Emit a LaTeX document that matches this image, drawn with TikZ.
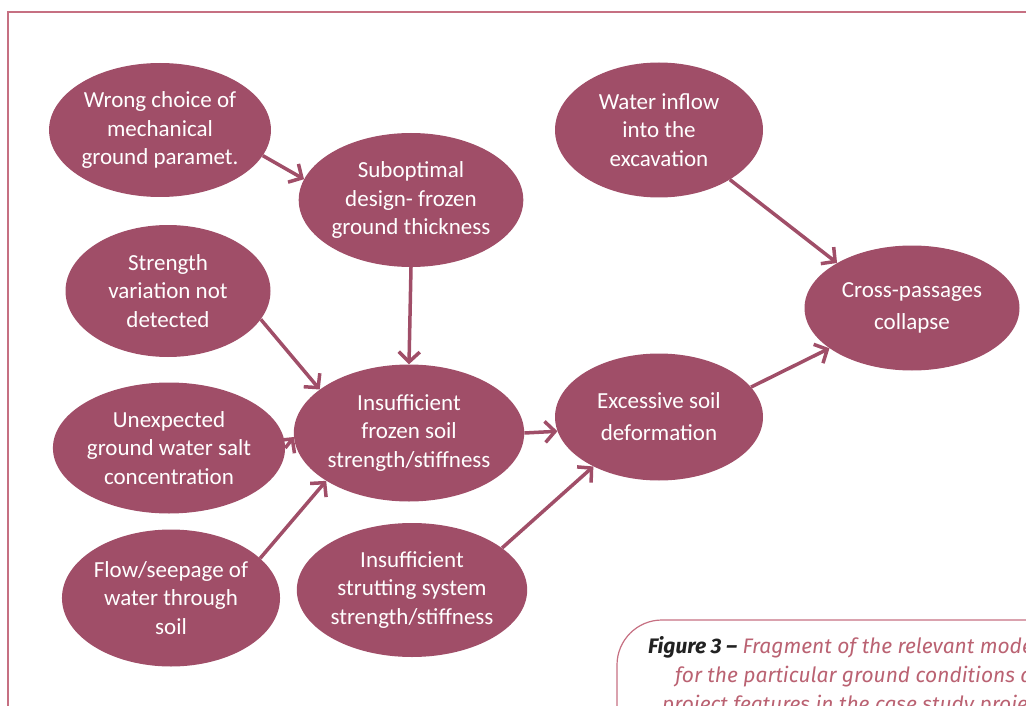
\documentclass[tikz,border=0pt]{standalone}
\usepackage{fontspec}
\setmainfont{Carlito}
\newfontfamily\capfont{Fira Sans}
\usepackage{tikz}
\usetikzlibrary{shapes.geometric}
\usetikzlibrary{arrows.meta}
\definecolor{bnred}{RGB}{160,78,104}
\definecolor{framepink}{RGB}{198,112,130}
\definecolor{captext}{RGB}{186,98,114}
\definecolor{capdark}{RGB}{34,34,34}

\begin{document}
\begin{tikzpicture}[x=1pt, y=-1pt,
    cause/.style={ellipse, fill=bnred, text=white, align=center, inner sep=0pt,
        minimum width=208pt, minimum height=134pt,
        font=\fontsize{23}{28.5}\selectfont},
    link/.style={-{Straight Barb[length=10pt, width=21pt]}, line width=3.5pt, bnred},
    captionline/.style={anchor=base west, inner sep=0pt, text=captext,
        font=\capfont\itshape\fontsize{21}{29}\selectfont}]
    \useasboundingbox (0,0) rectangle (1026,706);
    \draw[framepink, line width=1.5pt] (8,720) -- (8,12) -- (1040,12);

    \node[cause, minimum width=215pt] (wrongchoice) at (160,130) {Wrong choice of\\mechanical\\ground paramet.};
    \node[cause, minimum width=212pt] (suboptimal) at (411,200) {Suboptimal\\design- frozen\\ground thickness};
    \node[cause, minimum width=205pt, minimum height=132pt] (strength) at (168,291) {Strength\\variation not\\detected};
    \node[cause, minimum height=131pt] (saltconc) at (169,448) {Unexpected\\ground water salt\\concentration};
    \node[cause, minimum height=137pt] (seepage) at (171,598) {Flow/seepage of\\water through\\soil};
    \node[cause, minimum width=202pt, minimum height=137pt] (frozensoil) at (409,433) {Insufficient\\frozen soil\\strength/stiffness};
    \node[cause, minimum width=201pt] (strutting) at (412,590) {Insufficient\\strutting system\\strength/stiffness};
    \node[cause, minimum height=127pt, font=\fontsize{23}{32}\selectfont] (deformation) at (659,417) {Excessive soil\\deformation};
    \node[cause, minimum height=135pt] (waterinflow) at (659,130) {Water inflow\\into the\\excavation};
    \node[cause, minimum width=215pt, minimum height=125pt, font=\fontsize{23}{32}\selectfont] (collapse) at (912,308) {Cross-passages\\collapse};

    \draw[link] (wrongchoice.-14) -- (suboptimal.169);
    \draw[link] (suboptimal.south) -- (frozensoil.north);
    \draw[link] (strength.-17) -- (frozensoil.154);
    \draw[link] (saltconc.0) -- (frozensoil.182);
    \draw[link] (seepage.24) -- (frozensoil.210);
    \draw[link] (frozensoil.0) -- (deformation.188);
    \draw[link] (strutting.25) -- (deformation.217);
    \draw[link] (deformation.18) -- (collapse.206);
    \draw[link] (waterinflow.-35) -- (collapse.149);

    \draw[framepink, line width=1.2pt, rounded corners=45pt] (617,740) -- (617,620) -- (1080,620);
    \node[captionline] (capfirst) at (648,653) {{\bfseries\color{capdark}Figure 3 –} Fragment of the relevant model};
    \node[captionline] (capsecond) at (675,682) {for the particular ground conditions and};
    \node[captionline] (capthird) at (662,711) {project features in the case study project};
\end{tikzpicture}
\end{document}
